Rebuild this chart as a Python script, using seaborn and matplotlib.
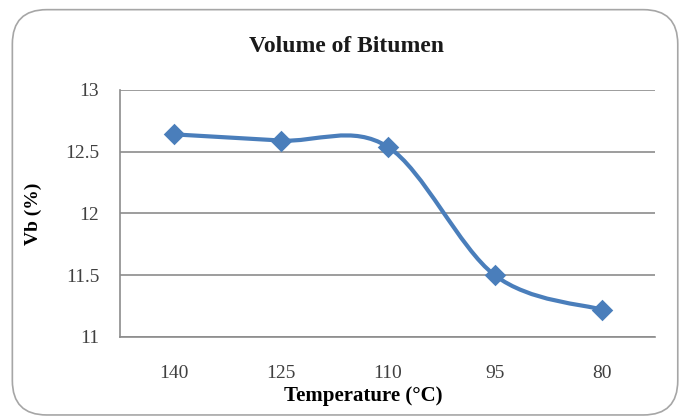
import numpy as np
import pandas as pd
import matplotlib
matplotlib.use("Agg")
import matplotlib.pyplot as plt
import seaborn as sns
from matplotlib.path import Path
from matplotlib.patches import PathPatch, FancyBboxPatch

categories = ["140", "125", "110", "95", "80"]
vb_values = [12.64, 12.59, 12.54, 11.50, 11.22]
yticks = [11, 11.5, 12, 12.5, 13]
ytick_labels = ["11", "11.5", "12", "12.5", "13"]

sns.set_theme(style="white")
plt.rcParams['font.family'] = ['Liberation Serif', 'DejaVu Serif']

df = pd.DataFrame({"Temperature": categories, "Vb": vb_values})
df["pos"] = np.arange(len(categories))

fig = plt.figure(figsize=(6.86, 4.2), dpi=100)
ax = fig.add_axes([0.175, 0.198, 0.78, 0.588])

# rounded chart border
border = FancyBboxPatch((0.018, 0.012), 0.97, 0.965, boxstyle="round,pad=0,rounding_size=0.05",
                        transform=fig.transFigure, facecolor="white", edgecolor="#a6a6a6",
                        linewidth=1.2, zorder=-10, mutation_aspect=686/420)
fig.patches.append(border)

color = "#4a7ebb"

# smooth (Excel-like) curve through the data points using Bezier segments
xs = df["pos"].to_numpy(dtype=float)
ys = df["Vb"].to_numpy(dtype=float)
n = len(xs)
verts = [(xs[0], ys[0])]
codes = [Path.MOVETO]
for i in range(n - 1):
    p0 = np.array([xs[max(i - 1, 0)], ys[max(i - 1, 0)]])
    p1 = np.array([xs[i], ys[i]])
    p2 = np.array([xs[i + 1], ys[i + 1]])
    p3 = np.array([xs[min(i + 2, n - 1)], ys[min(i + 2, n - 1)]])
    c1 = p1 + (p2 - p0) / 6.0
    c2 = p2 - (p3 - p1) / 6.0
    verts += [tuple(c1), tuple(c2), tuple(p2)]
    codes += [Path.CURVE4] * 3
ax.add_patch(PathPatch(Path(verts, codes), facecolor="none", edgecolor=color,
                       linewidth=3.0, zorder=3, capstyle="round"))

sns.scatterplot(data=df, x="pos", y="Vb", marker="D", s=120, color=color,
                edgecolor=color, linewidth=0, ax=ax, zorder=4)

ax.set_xlim(-0.5, n - 0.5)
ax.set_ylim(11, 13)
ax.set_yticks(yticks)
ax.set_yticklabels(ytick_labels)
ax.set_xticks(df["pos"])
ax.set_xticklabels(categories)
ax.tick_params(axis="both", length=0, labelsize=14, colors="#404040")
ax.tick_params(axis="y", pad=15)
ax.tick_params(axis="x", pad=20)
ax.yaxis.grid(True, color="#8c8c8c", linewidth=1.2)
ax.xaxis.grid(False)
ax.set_axisbelow(True)
for s in ["top", "right"]:
    ax.spines[s].set_visible(False)
for s in ["left", "bottom"]:
    ax.spines[s].set_color("#8c8c8c")
    ax.spines[s].set_linewidth(1.2)

ax.set_xlabel("Temperature (°C)", fontsize=15, fontweight="bold", color="black", labelpad=0)
ax.xaxis.set_label_coords(0.455, -0.2)
ax.set_ylabel("Vb (%)", fontsize=14, fontweight="bold", color="black")
ax.yaxis.set_label_coords(-0.145, 0.5)
fig.text(0.505, 0.89, "Volume of Bitumen", ha="center", va="center",
         fontsize=17, fontweight="bold", color="#1a1a1a")

fig.savefig("out.png", dpi=100)
